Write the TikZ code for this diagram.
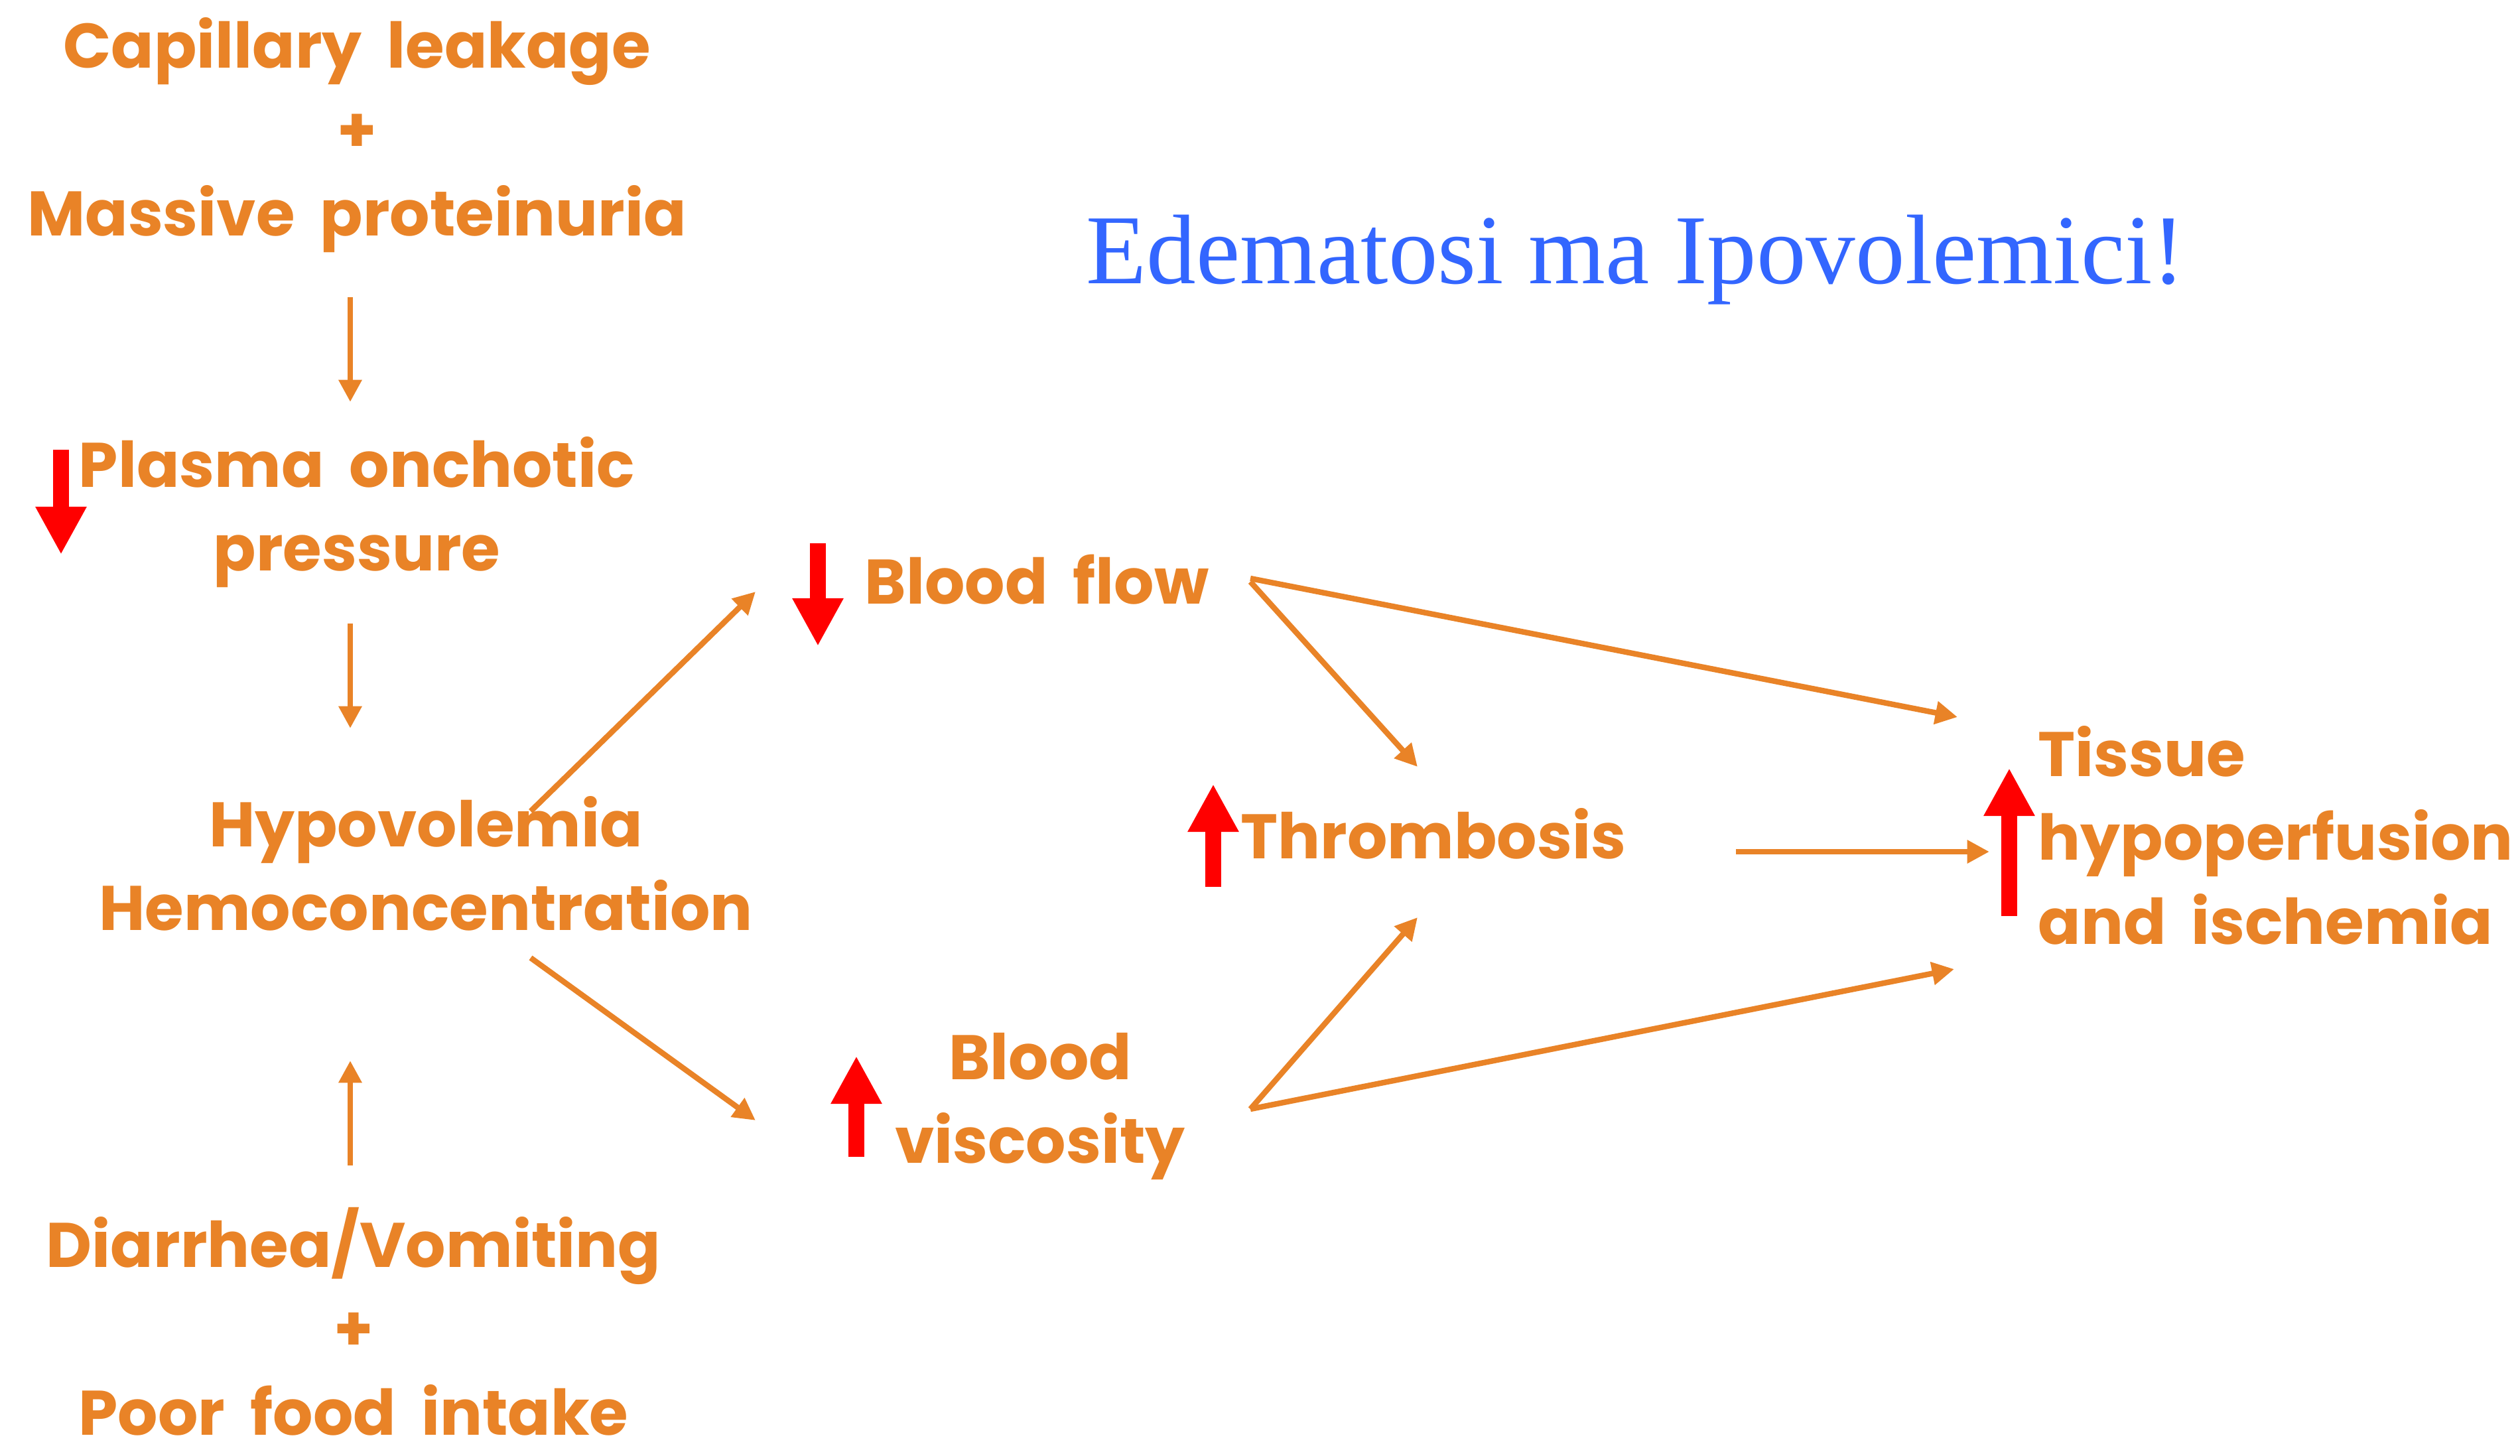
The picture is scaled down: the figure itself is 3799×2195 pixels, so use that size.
\documentclass[tikz,border=0pt]{standalone}
\usepackage{fontspec}
\setmainfont{Liberation Serif}
\newfontfamily\cfont{Poppins}
\newcommand\orgfont{\cfont\bfseries\fontsize{27}{36}\selectfont\spaceskip=0.4em\relax}
\usetikzlibrary{arrows.meta}
\definecolor{org}{RGB}{233,131,39}
\definecolor{ttl}{RGB}{51,102,255}
\definecolor{rd}{RGB}{255,0,0}
\begin{document}
\begin{tikzpicture}[x=0.01cm,y=-0.01cm,
  txt/.style={font=\orgfont, text=org, align=center, inner sep=0pt},
  arr/.style={draw=org, line width=2.4pt, -{Triangle[length=9.5pt,width=9.5pt]}},
  redarr/.style={draw=rd, line width=6.8pt, -{Triangle[length=20.5pt,width=20.5pt]}},
]
\useasboundingbox (0,0) rectangle (3799,2195);

% title
\node[font=\fontsize{42.4}{50}\selectfont, text=ttl, inner sep=0pt] (title) at (2466,392) {Edematosi ma Ipovolemici!};

% text nodes
\node[txt] (cap) at (538,204) {Capillary leakage\\+\\Massive proteinuria};
\node[txt] (pl) at (538,772) {Plasma onchotic\\pressure};
\node[txt] (hyp) at (642,1302) {Hypovolemia\\Hemoconcentration};
\node[txt] (dia) at (533,1992) {Diarrhea/Vomiting\\+\\Poor food intake};
\node[txt, anchor=west] (bf) at (1303,874) {Blood flow};
\node[txt] (visc) at (1568,1668) {Blood\\viscosity};
\node[txt, anchor=west] (thr) at (1870,1257) {Thrombosis};
\node[txt, anchor=west, align=left] (tis) at (3072,1259) {Tissue\\hypoperfusion\\and ischemia};

% red indicator arrows
\draw[redarr] (92,678) -- (92,836);
\draw[redarr] (1233,819) -- (1233,974);
\draw[redarr] (1291,1744) -- (1291,1592);
\draw[redarr] (1829,1337) -- (1829,1182);
\draw[redarr] (3029,1381) -- (3029,1158);

% connector end points
\coordinate (capB) at (528,448);  \coordinate (plT) at (528,606);
\coordinate (plB) at (528,940);   \coordinate (hypT) at (528,1098);
\coordinate (diaT) at (528,1757); \coordinate (hypB) at (528,1599);
\coordinate (hypR1) at (800,1223); \coordinate (bfL) at (1139,892);
\coordinate (hypR2) at (800,1444); \coordinate (viscL) at (1139,1689);
\coordinate (bfR) at (1885,872);  \coordinate (bfR2) at (1885,877);
\coordinate (viscR) at (1885,1672);
\coordinate (thrT) at (2137,1156); \coordinate (thrB) at (2137,1383);
\coordinate (thrR) at (2617,1284);
\coordinate (tisT) at (2951,1081); \coordinate (tisM) at (2999,1284);
\coordinate (tisB) at (2946,1461);

% connectors
\draw[arr] (capB) -- (plT);
\draw[arr] (plB) -- (hypT);
\draw[arr] (diaT) -- (hypB);
\draw[arr] (hypR1) -- (bfL);
\draw[arr] (hypR2) -- (viscL);
\draw[arr] (bfR) -- (tisT);
\draw[arr] (bfR2) -- (thrT);
\draw[arr] (viscR) -- (thrB);
\draw[arr] (viscR) -- (tisB);
\draw[arr] (thrR) -- (tisM);
\end{tikzpicture}
\end{document}
